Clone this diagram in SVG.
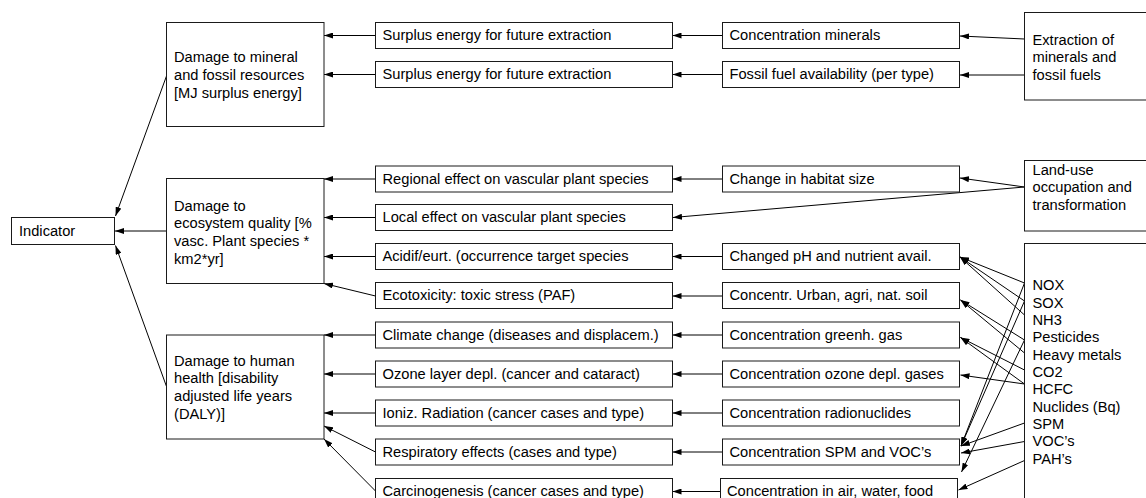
<svg xmlns="http://www.w3.org/2000/svg" width="1146" height="498" viewBox="0 0 1146 498">
  <defs>
    <style>
      .box { fill: #ffffff; stroke: #1a1a1a; stroke-width: 1; }
      .lbl { font-family: "Liberation Sans", Arial, sans-serif; font-size: 14.67px; fill: #000000; }
      .conn line { stroke: #000000; stroke-width: 1; fill: none; marker-end: url(#arrow); }
    </style>
    <marker id="arrow" markerUnits="userSpaceOnUse" markerWidth="10" markerHeight="6" refX="9" refY="3" orient="auto">
      <path d="M0,0 L9,3 L0,6 z" fill="#000000"/>
    </marker>
  </defs>
  <rect width="1146" height="498" fill="#ffffff"/>

  <!-- connectors -->
  <g id="connectors" class="conn">
    <!-- damage categories to indicator -->
    <line x1="166.5" y1="76" x2="115.5" y2="216"/>
    <line x1="166.5" y1="231" x2="115" y2="231"/>
    <line x1="166.5" y1="386.5" x2="115.5" y2="245.5"/>
    <!-- effects to damage categories -->
    <line x1="375.5" y1="35.5" x2="324" y2="35.5"/>
    <line x1="375.5" y1="74.5" x2="324" y2="74.5"/>
    <line x1="375.5" y1="179" x2="324" y2="179"/>
    <line x1="375.5" y1="217.5" x2="324" y2="217.5"/>
    <line x1="375.5" y1="256.5" x2="324" y2="256.5"/>
    <line x1="375.5" y1="296" x2="324" y2="283.5"/>
    <line x1="375.5" y1="335" x2="324" y2="335"/>
    <line x1="375.5" y1="374" x2="324" y2="374"/>
    <line x1="375.5" y1="413" x2="324" y2="413"/>
    <line x1="375.5" y1="452" x2="324" y2="426"/>
    <line x1="375.5" y1="491" x2="324" y2="439"/>
    <!-- fate/exposure to effects -->
    <line x1="722.5" y1="35.5" x2="672.5" y2="35.5"/>
    <line x1="722.5" y1="74.5" x2="672.5" y2="74.5"/>
    <line x1="722.5" y1="179" x2="672.5" y2="179"/>
    <line x1="722.5" y1="256.5" x2="672.5" y2="256.5"/>
    <line x1="722.5" y1="296" x2="672.5" y2="296"/>
    <line x1="722.5" y1="335" x2="672.5" y2="335"/>
    <line x1="722.5" y1="374" x2="672.5" y2="374"/>
    <line x1="722.5" y1="413" x2="672.5" y2="413"/>
    <line x1="722.5" y1="452" x2="672.5" y2="452"/>
    <line x1="720.5" y1="491.5" x2="672.5" y2="491.5"/>
    <!-- resources -->
    <line x1="1024.5" y1="39" x2="960" y2="36"/>
    <line x1="1024.5" y1="75" x2="960" y2="75"/>
    <!-- land use -->
    <line x1="1024.5" y1="187" x2="960" y2="178"/>
    <line x1="1024.5" y1="187" x2="673" y2="217.5"/>
    <!-- emissions -->
    <line x1="1024.5" y1="283" x2="960" y2="257"/>
    <line x1="1024.5" y1="301" x2="960" y2="257"/>
    <line x1="1024.5" y1="315" x2="960" y2="257"/>
    <line x1="1024.5" y1="283" x2="961" y2="446"/>
    <line x1="1024.5" y1="301" x2="961" y2="446"/>
    <line x1="1024.5" y1="340" x2="960.5" y2="300"/>
    <line x1="1024.5" y1="353" x2="960.5" y2="300"/>
    <line x1="1024.5" y1="340" x2="961.5" y2="472"/>
    <line x1="1024.5" y1="370" x2="960.5" y2="337.5"/>
    <line x1="1024.5" y1="384" x2="960.5" y2="337.5"/>
    <line x1="1024.5" y1="384" x2="960.5" y2="375"/>
    <line x1="1024.5" y1="423" x2="961" y2="446"/>
    <line x1="1024.5" y1="441.5" x2="961" y2="453"/>
    <line x1="1024.5" y1="460.5" x2="958.5" y2="490"/>
  </g>

  <!-- endpoint indicator -->
  <g id="indicator">
    <rect class="box" x="11.5" y="217.5" width="103" height="27"/>
    <text class="lbl" x="19" y="236">Indicator</text>
  </g>

  <!-- damage categories -->
  <g id="damage-resources">
    <rect class="box" x="166.5" y="22.5" width="157.5" height="104"/>
    <text class="lbl" x="174" y="62.2">Damage to mineral<tspan x="174" dy="17.7">and fossil resources</tspan><tspan x="174" dy="17.7">[MJ surplus energy]</tspan></text>
  </g>
  <g id="damage-ecosystem">
    <rect class="box" x="166.5" y="178.5" width="157.5" height="105"/>
    <text class="lbl" x="174" y="210.5">Damage to<tspan x="174" dy="17.7">ecosystem quality [%</tspan><tspan x="174" dy="17.7">vasc. Plant species *</tspan><tspan x="174" dy="17.7">km2*yr]</tspan></text>
  </g>
  <g id="damage-health">
    <rect class="box" x="166.5" y="335" width="157.5" height="104"/>
    <text class="lbl" x="174" y="365.5">Damage to human<tspan x="174" dy="17.7">health [disability</tspan><tspan x="174" dy="17.7">adjusted life years</tspan><tspan x="174" dy="17.7">(DALY)]</tspan></text>
  </g>

  <!-- effect analysis -->
  <g id="effect-surplus-1"><rect class="box" x="375.5" y="22.5" width="297" height="26"/><text class="lbl" x="382.5" y="40.3">Surplus energy for future extraction</text></g>
  <g id="effect-surplus-2"><rect class="box" x="375.5" y="61.5" width="297" height="26"/><text class="lbl" x="382.5" y="79.3">Surplus energy for future extraction</text></g>
  <g id="effect-regional"><rect class="box" x="375.5" y="166" width="297" height="26"/><text class="lbl" x="382.5" y="183.8">Regional effect on vascular plant species</text></g>
  <g id="effect-local"><rect class="box" x="375.5" y="204.5" width="297" height="26"/><text class="lbl" x="382.5" y="222.3">Local effect on vascular plant species</text></g>
  <g id="effect-acidif"><rect class="box" x="375.5" y="243.5" width="297" height="26"/><text class="lbl" x="382.5" y="261.3">Acidif/eurt. (occurrence target species</text></g>
  <g id="effect-ecotox"><rect class="box" x="375.5" y="282.5" width="297" height="26"/><text class="lbl" x="382.5" y="300.3">Ecotoxicity: toxic stress (PAF)</text></g>
  <g id="effect-climate"><rect class="box" x="375.5" y="322" width="297" height="26"/><text class="lbl" x="382.5" y="339.8">Climate change (diseases and displacem.)</text></g>
  <g id="effect-ozone"><rect class="box" x="375.5" y="361" width="297" height="26"/><text class="lbl" x="382.5" y="378.8">Ozone layer depl. (cancer and cataract)</text></g>
  <g id="effect-ioniz"><rect class="box" x="375.5" y="400" width="297" height="26"/><text class="lbl" x="382.5" y="417.8">Ioniz. Radiation (cancer cases and type)</text></g>
  <g id="effect-resp"><rect class="box" x="375.5" y="439" width="297" height="26"/><text class="lbl" x="382.5" y="456.8">Respiratory effects (cases and type)</text></g>
  <g id="effect-carcino"><rect class="box" x="375.5" y="478.5" width="297" height="26"/><text class="lbl" x="382.5" y="496.3">Carcinogenesis (cancer cases and type)</text></g>

  <!-- resource / fate / exposure analysis -->
  <g id="fate-minerals"><rect class="box" x="722.5" y="22.5" width="237" height="26"/><text class="lbl" x="729.5" y="40.3">Concentration minerals</text></g>
  <g id="fate-fossil"><rect class="box" x="722.5" y="61.5" width="237" height="26"/><text class="lbl" x="729.5" y="79.3">Fossil fuel availability (per type)</text></g>
  <g id="fate-habitat"><rect class="box" x="722.5" y="166" width="237" height="26"/><text class="lbl" x="729.5" y="183.8">Change in habitat size</text></g>
  <g id="fate-ph"><rect class="box" x="722.5" y="243.5" width="237" height="26"/><text class="lbl" x="729.5" y="261.3">Changed pH and nutrient avail.</text></g>
  <g id="fate-soil"><rect class="box" x="722.5" y="282.5" width="237" height="26"/><text class="lbl" x="729.5" y="300.3">Concentr. Urban, agri, nat. soil</text></g>
  <g id="fate-ghg"><rect class="box" x="722.5" y="322" width="237" height="26"/><text class="lbl" x="729.5" y="339.8">Concentration greenh. gas</text></g>
  <g id="fate-ozone"><rect class="box" x="722.5" y="361" width="237" height="26"/><text class="lbl" x="729.5" y="378.8">Concentration ozone depl. gases</text></g>
  <g id="fate-radio"><rect class="box" x="722.5" y="400" width="237" height="26"/><text class="lbl" x="729.5" y="417.8">Concentration radionuclides</text></g>
  <g id="fate-spm"><rect class="box" x="722.5" y="439" width="237" height="26"/><text class="lbl" x="729.5" y="456.8">Concentration SPM and VOC’s</text></g>
  <g id="fate-air"><rect class="box" x="720.5" y="478.5" width="237" height="26"/><text class="lbl" x="727" y="496.3">Concentration in air, water, food</text></g>

  <!-- inventory sources -->
  <g id="src-extraction">
    <rect class="box" x="1024.5" y="12.5" width="130" height="87.5"/>
    <text class="lbl" x="1032.5" y="44.8">Extraction of<tspan x="1032.5" dy="17.6">minerals and</tspan><tspan x="1032.5" dy="17.6">fossil fuels</tspan></text>
  </g>
  <g id="src-landuse">
    <rect class="box" x="1024.5" y="160.5" width="130" height="70.5"/>
    <text class="lbl" x="1032.5" y="174.7">Land-use<tspan x="1032.5" dy="17.6">occupation and</tspan><tspan x="1032.5" dy="17.6">transformation</tspan></text>
  </g>
  <g id="src-emissions">
    <rect class="box" x="1024.5" y="243.5" width="130" height="270"/>
    <text class="lbl" x="1032.5" y="290.3">NOX<tspan x="1032.5" dy="17.33">SOX</tspan><tspan x="1032.5" dy="17.33">NH3</tspan><tspan x="1032.5" dy="17.33">Pesticides</tspan><tspan x="1032.5" dy="17.33">Heavy metals</tspan><tspan x="1032.5" dy="17.33">CO2</tspan><tspan x="1032.5" dy="17.33">HCFC</tspan><tspan x="1032.5" dy="17.33">Nuclides (Bq)</tspan><tspan x="1032.5" dy="17.33">SPM</tspan><tspan x="1032.5" dy="17.33">VOC’s</tspan><tspan x="1032.5" dy="17.33">PAH’s</tspan></text>
  </g>
</svg>
